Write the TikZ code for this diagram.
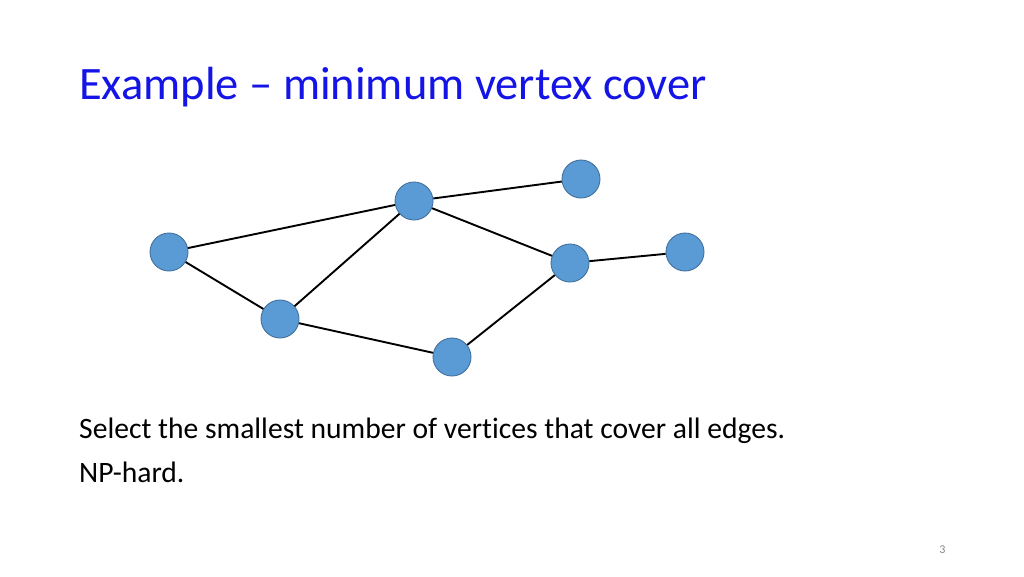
\documentclass[tikz,border=0pt]{standalone}
\usepackage{fontspec}
\setmainfont{Carlito}[Ligatures=NoCommon]
\definecolor{vfill}{HTML}{5B9BD5}
\definecolor{vline}{HTML}{41719C}
\definecolor{titleblue}{RGB}{20,20,230}
\definecolor{pagegray}{RGB}{137,137,137}
\tikzset{
  vert/.style={circle, fill=vfill, draw=vline, line width=0.9pt, minimum size=38pt, inner sep=0pt},
  edge/.style={draw=black, line width=1.9pt},
  titletext/.style={anchor=base west, inner sep=0pt, text=titleblue, font=\fontsize{46.5}{54}\selectfont},
  bodytext/.style={anchor=base west, inner sep=0pt, text=black, font=\fontsize{29.6}{35}\selectfont},
}
\begin{document}
\begin{tikzpicture}[x=1pt,y=-1pt]
\useasboundingbox[fill=white] (0,0) rectangle (1024,576);
\node[titletext] (title) at (79,99.3) {Example – minimum vertex cover};
\node[vert] (A) at (169,252) {};
\node[vert] (B) at (414,201) {};
\node[vert] (C) at (581,179) {};
\node[vert] (D) at (570,263) {};
\node[vert] (E) at (685,252) {};
\node[vert] (F) at (280,319) {};
\node[vert] (G) at (452,357) {};
\draw[edge] (A) -- (B);
\draw[edge] (B) -- (C);
\draw[edge] (B) -- (D);
\draw[edge] (D) -- (E);
\draw[edge] (A) -- (F);
\draw[edge] (F) -- (B);
\draw[edge] (F) -- (G);
\draw[edge] (G) -- (D);
\node[bodytext] (l1) at (79,438.7) {Select the smallest number of vertices that cover all edges.};
\node[bodytext] (l2) at (79,482) {NP-hard.};
\node[anchor=base, inner sep=0pt, text=pagegray, font=\fontsize{12}{14}\selectfont] (pg) at (942.5,553) {3};
\end{tikzpicture}
\end{document}
